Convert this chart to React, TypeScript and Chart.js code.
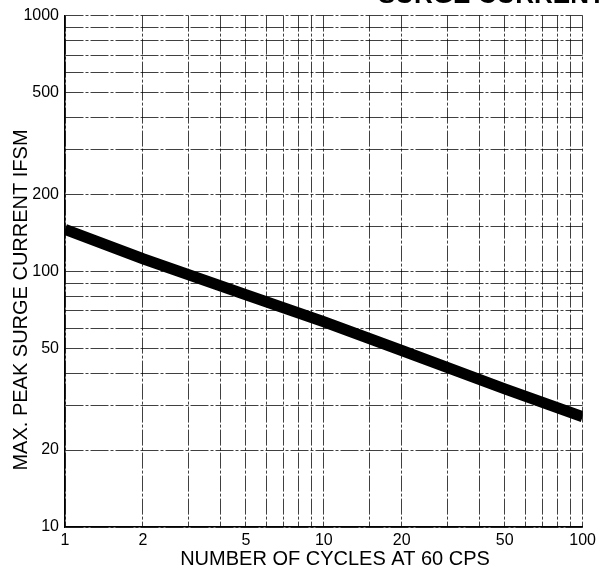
import React, { useEffect, useRef } from "react";
import { Chart, registerables } from "chart.js";

Chart.register(...registerables);

// Number of cycles at 60 cps (x) vs max. peak surge current IFSM (y)
const cycles = [1, 2, 5, 10, 20, 50, 100];
const surgeCurrent = [146, 112, 81, 63.5, 49, 34.7, 27];

const xTickLabels = [1, 2, 5, 10, 20, 50, 100];
const yTickLabels = [10, 20, 50, 100, 200, 500, 1000];

const xTitle = "NUMBER OF CYCLES AT 60 CPS";
const yTitle = "MAX. PEAK SURGE CURRENT IFSM";
const croppedTitle = "SURGE CURRENT";

const FONT = '"Liberation Sans", Arial, Helvetica, sans-serif';

export default function App() {
  const canvasRef = useRef<HTMLCanvasElement | null>(null);

  useEffect(() => {
    document.body.style.margin = "0";
    const canvas = canvasRef.current;
    if (!canvas) return;

    const textPlugin = {
      id: "extraText",
      afterDraw(chart: any) {
        const ctx = chart.ctx;
        ctx.save();
        ctx.fillStyle = "#000";
        // cropped page title at the very top
        ctx.font = `bold 26px ${FONT}`;
        ctx.textBaseline = "alphabetic";
        ctx.textAlign = "left";
        ctx.fillText(croppedTitle, 378, 3);
        // x-axis title
        ctx.font = `20px ${FONT}`;
        ctx.textAlign = "center";
        ctx.textBaseline = "middle";
        ctx.fillText(xTitle, 335, 559);
        // y-axis title
        ctx.translate(21, 300);
        ctx.rotate(-Math.PI / 2);
        ctx.fillText(yTitle, 0, 0);
        ctx.restore();
      },
    };

    const gridStyle = {
      color: "rgba(0,0,0,0.75)",
      lineWidth: 1,
      drawTicks: false,
    };

    const chart = new Chart(canvas, {
      type: "line",
      data: {
        datasets: [
          {
            data: cycles.map((c, i) => ({ x: c, y: surgeCurrent[i] })),
            borderColor: "#000",
            backgroundColor: "#000",
            borderWidth: 11,
            borderCapStyle: "butt",
            pointRadius: 0,
            tension: 0,
            fill: false,
          },
        ],
      },
      options: {
        responsive: false,
        animation: false,
        maintainAspectRatio: false,
        layout: { padding: { top: 13, right: 14, left: 0, bottom: 0 } },
        plugins: {
          legend: { display: false },
          tooltip: { enabled: false },
          title: { display: false },
        },
        scales: {
          x: {
            type: "logarithmic",
            min: 1,
            max: 100,
            grid: gridStyle,
            border: { display: true, color: "#000", width: 1.5, dash: [16, 2, 3, 2] },
            ticks: {
              autoSkip: false,
              maxRotation: 0,
              padding: 4,
              color: "#000",
              font: { family: FONT, size: 16 },
              callback: (v: any) => (xTickLabels.includes(Number(v)) ? String(v) : ""),
            },
            title: { display: false },
            afterFit: (scale: any) => {
              scale.height = 42;
            },
          },
          y: {
            type: "logarithmic",
            min: 10,
            max: 1000,
            grid: gridStyle,
            border: { display: true, color: "#000", width: 1.5, dash: [18, 2, 3, 2] },
            ticks: {
              autoSkip: false,
              padding: 6,
              color: "#000",
              font: { family: FONT, size: 16 },
              callback: (v: any) => (yTickLabels.includes(Number(v)) ? String(v) : ""),
            },
            title: { display: false },
            afterFit: (scale: any) => {
              scale.width = 65;
            },
          },
        },
      },
      plugins: [textPlugin],
    } as any);

    return () => chart.destroy();
  }, []);

  return (
    <div style={{ width: 600, height: 569, background: "#fff" }}>
      <canvas ref={canvasRef} width={600} height={569} style={{ display: "block" }} />
    </div>
  );
}
